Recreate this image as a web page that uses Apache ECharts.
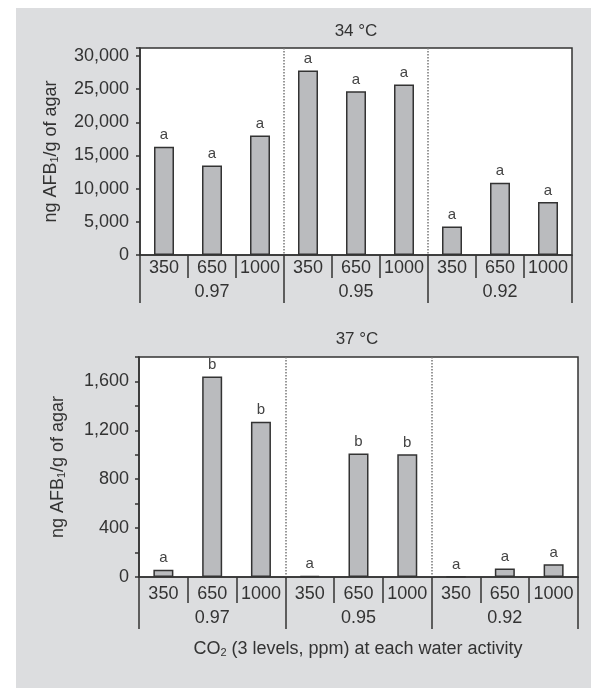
<!DOCTYPE html>
<html>
<head>
	<meta charset="utf-8">
	<title>AFB1 by CO2 and water activity</title>
	<script type="text/javascript" src="https://cdn.jsdelivr.net/npm/echarts@6/dist/echarts.min.js"></script>
	<style>body { margin: 0; background: #fff; }</style>
</head>
<body>
<div id="main" style="width: 591px; height: 688px"></div>

<script type="text/javascript">
var myChart = echarts.init(document.getElementById('main'));

// CO2 levels (ppm) repeated for each water activity
var co2Levels = ['350', '650', '1000', '350', '650', '1000', '350', '650', '1000'];
var waterActivity = ['0.97', '0.95', '0.92'];

// 34 °C
var afb34 = [16300, 13500, 18000, 27800, 24700, 25700, 4300, 10900, 8000];
var letters34 = ['a', 'a', 'a', 'a', 'a', 'a', 'a', 'a', 'a'];

// 37 °C
var afb37 = [60, 1640, 1270, 8, 1010, 1005, 5, 70, 105];
var letters37 = ['a', 'b', 'b', 'a', 'b', 'b', 'a', 'a', 'a'];

var font = 'Liberation Sans, Arial, sans-serif';
var ink = '#333';

// plot boxes: the group axes sit in a twin grid laid over each plot
var topBox = {left: 140, top: 48, width: 432, height: 207};
var botBox = {left: 139, top: 357, width: 439, height: 220};

function makeData(vals, letters) {
    return vals.map(function (v, i) {
        return {value: v, label: {formatter: letters[i]}};
    });
}

function thousands(v) {
    return String(v).replace(/\B(?=(\d{3})+(?!\d))/g, ',');
}

var subRich = {
    n: {fontSize: 18, fontFamily: font, fontWeight: 'normal', color: ink},
    s: {fontSize: 11, fontFamily: font, fontWeight: 'normal', color: ink, verticalAlign: 'bottom', lineHeight: 14}
};
var yName = '{n|ng AFB}{s|1}{n|/g of agar}';

function innerAxis(gi, margin, tickLen) {
    return {
        type: 'category',
        gridIndex: gi,
        data: co2Levels,
        axisLine: {lineStyle: {color: ink, width: 1.5}},
        axisTick: {show: true, interval: 0, length: tickLen, lineStyle: {color: ink, width: 1.5}},
        axisLabel: {interval: 0, margin: margin, fontSize: 18, fontFamily: font, color: ink}
    };
}

function groupAxis(gi, margin, tickLen) {
    return {
        type: 'category',
        gridIndex: gi,
        data: waterActivity,
        axisLine: {show: false},
        axisTick: {show: true, interval: 0, length: tickLen, lineStyle: {color: ink, width: 1.5}},
        axisLabel: {interval: 0, margin: margin, fontSize: 18, fontFamily: font, color: ink},
        splitLine: {
            show: true, interval: 0, showMinLine: false, showMaxLine: false,
            lineStyle: {color: '#777', type: 'dotted', width: 1.5}
        }
    };
}

function hiddenY(gi) {
    return {type: 'value', gridIndex: gi, show: false, min: 0, max: 1, splitLine: {show: false}};
}

function barSeries(xi, yi, vals, letters) {
    return {
        type: 'bar',
        xAxisIndex: xi,
        yAxisIndex: yi,
        barWidth: 20,
        data: makeData(vals, letters),
        itemStyle: {color: '#babbbe', borderColor: ink, borderWidth: 1.5},
        label: {show: true, position: 'top', distance: 4, fontSize: 15, fontFamily: font, color: '#444'}
    };
}

function plotGrid(box, visible) {
    return Object.assign({
        show: visible, backgroundColor: visible ? '#fff' : 'transparent',
        borderColor: ink, borderWidth: visible ? 1.5 : 0
    }, box);
}

option = {
    backgroundColor: '#fff',
    animation: false,
    graphic: [{
        type: 'rect', z: -10, silent: true,
        shape: {x: 16, y: 8, width: 575, height: 680},
        style: {fill: '#dcdddf'}
    }],
    title: [
        {text: '34 °C', left: 356, top: 23, padding: 0, textAlign: 'center',
            textStyle: {fontSize: 17, fontWeight: 'normal', fontFamily: font, color: ink}},
        {text: '37 °C', left: 357, top: 331, padding: 0, textAlign: 'center',
            textStyle: {fontSize: 17, fontWeight: 'normal', fontFamily: font, color: ink}},
        {text: '{n|CO}{s|2}{n| (3 levels, ppm) at each water activity}', left: 358, top: 640,
            padding: 0, textAlign: 'center',
            textStyle: {fontWeight: 'normal', rich: subRich}}
    ],
    grid: [
        plotGrid(topBox, true),
        plotGrid(botBox, true),
        plotGrid(topBox, false),
        plotGrid(botBox, false)
    ],
    xAxis: [
        innerAxis(0, 4, 23),
        innerAxis(1, 8, 26),
        groupAxis(2, 28, 48),
        groupAxis(3, 32, 52)
    ],
    yAxis: [
        {
            type: 'value', gridIndex: 0, min: 0, max: 31200, interval: 5000,
            name: yName, nameLocation: 'middle', nameGap: 80, nameRotate: 90,
            nameTextStyle: {rich: subRich},
            axisLine: {show: true, lineStyle: {color: ink, width: 1.5}},
            axisTick: {show: true, length: 4, lineStyle: {color: ink, width: 1.5}},
            splitLine: {show: false},
            axisLabel: {
                margin: 11, fontSize: 18, fontFamily: font, color: ink,
                formatter: function (v) { return v % 5000 === 0 ? thousands(v) : ''; }
            }
        },
        {
            type: 'value', gridIndex: 1, min: 0, max: 1800, interval: 200,
            name: yName, nameLocation: 'middle', nameGap: 72, nameRotate: 90,
            nameTextStyle: {rich: subRich},
            axisLine: {show: true, lineStyle: {color: ink, width: 1.5}},
            axisTick: {show: true, length: 4, lineStyle: {color: ink, width: 1.5}},
            splitLine: {show: false},
            axisLabel: {
                margin: 10, fontSize: 18, fontFamily: font, color: ink,
                formatter: function (v) { return v % 400 === 0 ? thousands(v) : ''; }
            }
        },
        hiddenY(2),
        hiddenY(3)
    ],
    series: [
        barSeries(0, 0, afb34, letters34),
        barSeries(1, 1, afb37, letters37)
    ]
};

myChart.setOption(option);
</script>
</body>
</html>
